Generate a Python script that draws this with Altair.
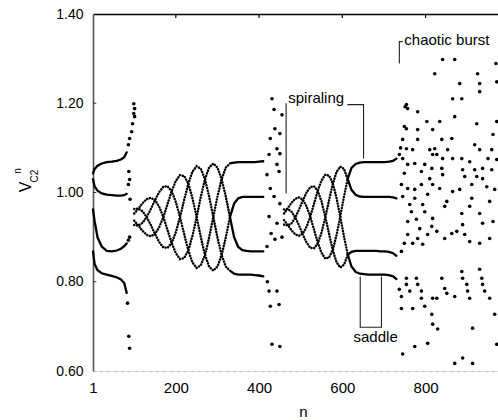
import altair as alt
import pandas as pd

FONT = "Liberation Sans"

# ---------------- axis ticks ----------------
X_TICKS = [1, 200, 400, 600, 800]
Y_TICKS = [0.6, 0.8, 1.0, 1.2, 1.4]
TOP_TICK_N = [200, 400, 600, 800]
LEFT_TICK_V = [0.8, 1.0, 1.2]

# ---------------- segment 1 : period-4 orbit, n = 1 ... 82 ----------------
S1_N = [1, 5, 12, 22, 34, 46, 58, 68, 76, 82]
S1_TOP = [1.043, 1.053, 1.060, 1.065, 1.068, 1.069, 1.071, 1.074, 1.079, 1.090]
S1_MID = [1.030, 1.013, 1.004, 0.998, 0.995, 0.994, 0.993, 0.993, 0.994, 0.997]
S1_LOW = [0.962, 0.935, 0.899, 0.879, 0.869, 0.868, 0.870, 0.874, 0.880, 0.886]
S1_BOT = [0.868, 0.839, 0.826, 0.819, 0.816, 0.813, 0.810, 0.805, 0.797, 0.775]

# ---------------- segment 2 : spiraling n = 100 ... 330, saddle 330 ... 410 ----------------
S2_N = [100, 110, 120, 130, 140, 150, 160, 170, 180, 190, 200, 210, 220, 230, 240, 250,
        260, 270, 280, 290, 300, 310, 320, 330, 340, 350, 360, 370, 380, 390, 400, 410]
S2_B0 = [0.953, 0.964, 0.976, 0.985, 0.988, 0.983, 0.968, 0.945, 0.916, 0.887, 0.864, 0.851,
         0.853, 0.870, 0.903, 0.945, 0.990, 1.030, 1.056, 1.065, 1.056, 1.030, 0.991, 0.945,
         0.900, 0.878, 0.871, 0.869, 0.868, 0.868, 0.868, 0.868]
S2_B1 = [0.927, 0.926, 0.932, 0.945, 0.963, 0.983, 1.001, 1.013, 1.014, 1.003, 0.979, 0.945,
         0.907, 0.870, 0.843, 0.831, 0.837, 0.860, 0.899, 0.945, 0.991, 1.030, 1.056, 1.065,
         1.067, 1.068, 1.068, 1.068, 1.068, 1.068, 1.069, 1.070]
S2_B2 = [0.937, 0.926, 0.914, 0.905, 0.902, 0.907, 0.922, 0.945, 0.974, 1.003, 1.026, 1.039,
         1.037, 1.020, 0.987, 0.945, 0.900, 0.860, 0.834, 0.825, 0.834, 0.860, 0.899, 0.945,
         0.975, 0.987, 0.990, 0.990, 0.990, 0.990, 0.990, 0.990]
S2_B3 = [0.963, 0.964, 0.958, 0.945, 0.927, 0.907, 0.889, 0.877, 0.876, 0.887, 0.911, 0.945,
         0.983, 1.020, 1.047, 1.059, 1.053, 1.030, 0.991, 0.945, 0.899, 0.860, 0.834, 0.825,
         0.818, 0.816, 0.816, 0.816, 0.816, 0.815, 0.814, 0.812]
S2_SPLIT = 23

# ---------------- segment 3 : spiraling n = 460 ... 613, saddle 613 ... 730 ----------------
S3_N = [460, 469, 478, 487, 496, 505, 514, 523, 532, 541, 550, 559, 568, 577, 586, 595, 604, 613,
        622, 632, 642, 652, 662, 672, 682, 692, 702, 712, 722, 730]
S3_B0 = [0.953, 0.965, 0.977, 0.986, 0.989, 0.984, 0.969, 0.946, 0.917, 0.888, 0.865, 0.852,
         0.854, 0.871, 0.904, 0.946, 0.991, 1.031, 1.055, 1.064, 1.067, 1.068, 1.068, 1.068,
         1.068, 1.068, 1.068, 1.069, 1.071, 1.076]
S3_B1 = [0.928, 0.926, 0.931, 0.944, 0.962, 0.982, 1.000, 1.012, 1.014, 1.004, 0.980, 0.946,
         0.908, 0.871, 0.844, 0.832, 0.838, 0.860, 0.867, 0.869, 0.869, 0.869, 0.869, 0.869,
         0.869, 0.868, 0.868, 0.867, 0.864, 0.858]
S3_B2 = [0.938, 0.927, 0.915, 0.906, 0.903, 0.908, 0.923, 0.946, 0.975, 1.004, 1.027, 1.040,
         1.038, 1.021, 0.988, 0.946, 0.901, 0.861, 0.834, 0.822, 0.818, 0.817, 0.816, 0.816,
         0.816, 0.816, 0.816, 0.815, 0.812, 0.806]
S3_B3 = [0.962, 0.963, 0.957, 0.944, 0.926, 0.906, 0.888, 0.876, 0.875, 0.886, 0.910, 0.944,
         0.982, 1.019, 1.046, 1.058, 1.053, 1.030, 1.006, 0.995, 0.991, 0.990, 0.990, 0.990,
         0.990, 0.990, 0.990, 0.990, 0.989, 0.987]
S3_SPLIT = 17

# ---------------- scattered iterates (escapes) ----------------
ESC_N = [86, 89, 94, 96, 101, 99, 101, 99, 86, 87, 89, 90, 86, 89, 84, 87, 89,
         424, 427, 431, 436, 455, 438, 450, 443, 450, 443, 448, 419, 427, 450, 436, 424, 443,
         429, 455, 419, 438, 420, 424, 443, 427, 448, 431, 450]
ESC_V = [1.107, 1.121, 1.136, 1.154, 1.170, 1.177, 1.188, 1.199, 1.018, 1.047, 1.029, 0.985,
         0.893, 0.900, 0.752, 0.678, 0.651,
         1.085, 1.121, 1.210, 1.186, 1.174, 1.143, 1.132, 1.098, 1.087, 1.063, 1.047, 1.040,
         1.009, 0.975, 0.991, 0.946, 0.931, 0.908, 0.900, 0.879, 0.895, 0.800, 0.779, 0.779,
         0.745, 0.749, 0.660, 0.655]

# ---------------- chaotic burst ----------------
CHAOS_N = [822, 754, 757, 781, 803, 754, 781, 817, 745, 781, 754, 769, 810, 745, 817, 757, 774,
           798, 815, 749, 790, 810, 742, 757, 774, 790, 745, 774, 805, 762, 793, 766, 798, 757,
           778, 817, 786, 815, 757, 781, 805, 749, 769, 793, 742, 754, 778, 754, 781, 737, 762,
           790, 742, 790, 817, 742, 769, 798, 815, 817, 774, 805, 745,
           841, 870, 882, 930, 971, 930, 865, 887, 834, 870, 923, 971, 839, 863, 962, 822, 853,
           918, 930, 959, 827, 841, 865, 887, 906, 950, 971, 839, 889, 918, 937, 959, 841, 894,
           923, 937, 817, 834, 865, 882, 911, 947, 966, 851, 911, 954, 846, 906, 887, 930, 889,
           937, 962, 827, 846, 863, 875, 894, 906, 930, 954, 887, 889, 930, 935, 839, 846, 899,
           937, 851, 901, 942, 827, 870, 906, 954, 966, 829, 913, 971, 870, 913, 889, 925, 969,
           749, 751, 737, 740]
CHAOS_V = [1.266, 1.197, 1.188, 1.181, 1.159, 1.143, 1.141, 1.141, 1.119, 1.119, 1.098, 1.096,
           1.096, 1.076, 1.085, 1.063, 1.065, 1.063, 1.054, 1.043, 1.047, 1.031, 1.018, 1.009,
           1.007, 1.018, 0.991, 0.987, 0.996, 0.973, 0.973, 0.957, 0.957, 0.935, 0.940, 0.942,
           0.919, 0.924, 0.906, 0.897, 0.906, 0.886, 0.886, 0.884, 0.868, 0.808, 0.808, 0.794,
           0.794, 0.783, 0.779, 0.779, 0.767, 0.763, 0.763, 0.740, 0.740, 0.745, 0.727, 0.705,
           0.655, 0.662, 0.638,
           1.298, 1.298, 1.244, 1.244, 1.248, 1.226, 1.210, 1.210, 1.159, 1.170, 1.154, 1.159,
           1.119, 1.121, 1.130, 1.098, 1.096, 1.107, 1.096, 1.096, 1.085, 1.076, 1.076, 1.076,
           1.069, 1.076, 1.074, 1.054, 1.051, 1.051, 1.054, 1.051, 1.040, 1.036, 1.036, 1.031,
           1.018, 1.009, 1.002, 1.007, 1.018, 1.013, 1.007, 0.980, 0.987, 0.980, 0.969, 0.969,
           0.953, 0.953, 0.928, 0.931, 0.935, 0.913, 0.897, 0.908, 0.913, 0.906, 0.890, 0.886,
           0.897, 0.823, 0.808, 0.828, 0.808, 0.808, 0.785, 0.794, 0.794, 0.774, 0.779, 0.779,
           0.763, 0.767, 0.763, 0.763, 0.727, 0.694, 0.696, 0.660, 0.617, 0.617, 0.629, 1.266,
           1.289, 1.148, 1.192, 1.085, 1.100]

# ---------------- annotations ----------------
LABEL_TEXT = ["spiraling", "chaotic burst", "saddle"]
LABEL_N = [470, 749, 680]
LABEL_V = [1.201, 1.330, 0.664]
LABEL_ALIGN = ["left", "left", "center"]

BRACKETS = {
    "spiral_left": ([465, 465], [0.998, 1.200]),
    "spiral_right": ([612, 651, 651], [1.197, 1.197, 1.076]),
    "chaos": ([737, 737, 745], [1.289, 1.338, 1.338]),
    "saddle": ([643, 643, 694, 694], [0.812, 0.698, 0.698, 0.812]),
}

# ---------------- build tables ----------------
def rows(ns, vs, cid):
    return [{"n": n, "v": v, "c": cid, "o": i} for i, (n, v) in enumerate(zip(ns, vs))]

solid, dotted = [], []
for k, vs in enumerate([S1_TOP, S1_MID, S1_LOW, S1_BOT]):
    solid += rows(S1_N, vs, f"s1_{k}")
for k, vs in enumerate([S2_B0, S2_B1, S2_B2, S2_B3]):
    dotted += rows(S2_N[:S2_SPLIT + 1], vs[:S2_SPLIT + 1], f"s2_{k}")
    solid += rows(S2_N[S2_SPLIT:], vs[S2_SPLIT:], f"s2f_{k}")
for k, vs in enumerate([S3_B0, S3_B1, S3_B2, S3_B3]):
    dotted += rows(S3_N[:S3_SPLIT + 1], vs[:S3_SPLIT + 1], f"s3_{k}")
    solid += rows(S3_N[S3_SPLIT:], vs[S3_SPLIT:], f"s3f_{k}")

dots = pd.DataFrame({"n": ESC_N + CHAOS_N, "v": ESC_V + CHAOS_V})
brk = []
for name, (ns, vs) in BRACKETS.items():
    brk += rows(ns, vs, name)

xs = alt.Scale(domain=[1, 974], nice=False, zero=False)
ys = alt.Scale(domain=[0.6, 1.4], nice=False, zero=False)

X_BOTTOM = alt.Axis(values=X_TICKS, labelFontSize=15, labelFont=FONT, labelColor="black",
                    ticks=False, labelPadding=9, domainColor="#b0b0b0", domainDash=[2, 5],
                    domainWidth=1, grid=False, labelFlush=False, title="n",
                    titleFont=FONT, titleFontSize=15, titleFontWeight="normal",
                    titleColor="black", titleX=210, titleY=40, titleBaseline="middle")
X_TOP = alt.Axis(orient="top", labels=False, ticks=False, domainColor="black",
                 domainWidth=1.4, grid=False, title=None)
Y_LEFT = alt.Axis(values=Y_TICKS, format=".2f", labelFontSize=14, labelFont=FONT,
                  labelColor="black", labelPadding=10, ticks=False, domainColor="#555",
                  domainWidth=1.6, grid=False, title=None)

dots_layer = alt.Chart(dots).mark_circle(size=13, color="black", opacity=1).encode(
    x=alt.X("n:Q", scale=xs, axis=X_BOTTOM),
    y=alt.Y("v:Q", scale=ys, axis=Y_LEFT),
)

top_layer = alt.Chart(pd.DataFrame({"n": TOP_TICK_N})).mark_rule(
    color="black", strokeWidth=1.2).encode(
    x=alt.X("n:Q", scale=xs, axis=X_TOP),
    y=alt.Y("a:Q", scale=ys, axis=None),
    y2="b:Q",
).transform_calculate(a="1.4", b="1.391")

left_ticks = alt.Chart(pd.DataFrame({"v": LEFT_TICK_V})).mark_rule(
    color="#333", strokeWidth=1).encode(
    x=alt.X("a:Q", scale=xs, axis=None), x2="b:Q",
    y=alt.Y("v:Q", scale=ys, axis=None),
).transform_calculate(a="1", b="9")

solid_layer = alt.Chart(pd.DataFrame(solid)).mark_line(
    color="black", strokeWidth=2.3, strokeCap="round").encode(
    x=alt.X("n:Q", scale=xs, axis=None), y=alt.Y("v:Q", scale=ys, axis=None),
    detail="c:N", order="o:Q")

dotted_layer = alt.Chart(pd.DataFrame(dotted)).mark_line(
    color="black", strokeWidth=2.5, strokeCap="round", strokeDash=[0.1, 2.7]).encode(
    x=alt.X("n:Q", scale=xs, axis=None), y=alt.Y("v:Q", scale=ys, axis=None),
    detail="c:N", order="o:Q")

bracket_layer = alt.Chart(pd.DataFrame(brk)).mark_line(
    color="#222", strokeWidth=1.1).encode(
    x=alt.X("n:Q", scale=xs, axis=None), y=alt.Y("v:Q", scale=ys, axis=None),
    detail="c:N", order="o:Q")

lab = pd.DataFrame({"t": LABEL_TEXT, "n": LABEL_N, "v": LABEL_V, "al": LABEL_ALIGN})
text_layers = []
for al in ["left", "center"]:
    text_layers.append(
        alt.Chart(lab[lab["al"] == al]).mark_text(
            align=al, baseline="alphabetic", font=FONT, fontSize=15, color="black").encode(
            x=alt.X("n:Q", scale=xs, axis=None), y=alt.Y("v:Q", scale=ys, axis=None),
            text="t:N"))

ytitle = [
    alt.Chart(pd.DataFrame({"t": ["V"]})).mark_text(
        angle=270, font=FONT, fontSize=16, color="black", align="center",
        baseline="middle").encode(x=alt.value(-67), y=alt.value(173), text="t:N"),
    alt.Chart(pd.DataFrame({"t": ["C2"]})).mark_text(
        angle=270, font=FONT, fontSize=10, color="black", align="center",
        baseline="middle").encode(x=alt.value(-58), y=alt.value(162), text="t:N"),
    alt.Chart(pd.DataFrame({"t": ["n"]})).mark_text(
        angle=270, font=FONT, fontSize=10, color="black", align="center",
        baseline="middle").encode(x=alt.value(-75), y=alt.value(157), text="t:N"),
]

chart = alt.layer(
    dots_layer, top_layer, left_ticks, solid_layer, dotted_layer, bracket_layer,
    *text_layers, *ytitle
).resolve_axis(x="independent", y="independent").properties(
    width=405, height=357,
    autosize=alt.AutoSizeParams(type="none"),
    padding={"left": 93, "top": 14, "right": 0, "bottom": 49},
).configure_view(stroke=None).configure(background="white")

chart.save("out.html", embed_options={"renderer": "svg", "actions": False})
